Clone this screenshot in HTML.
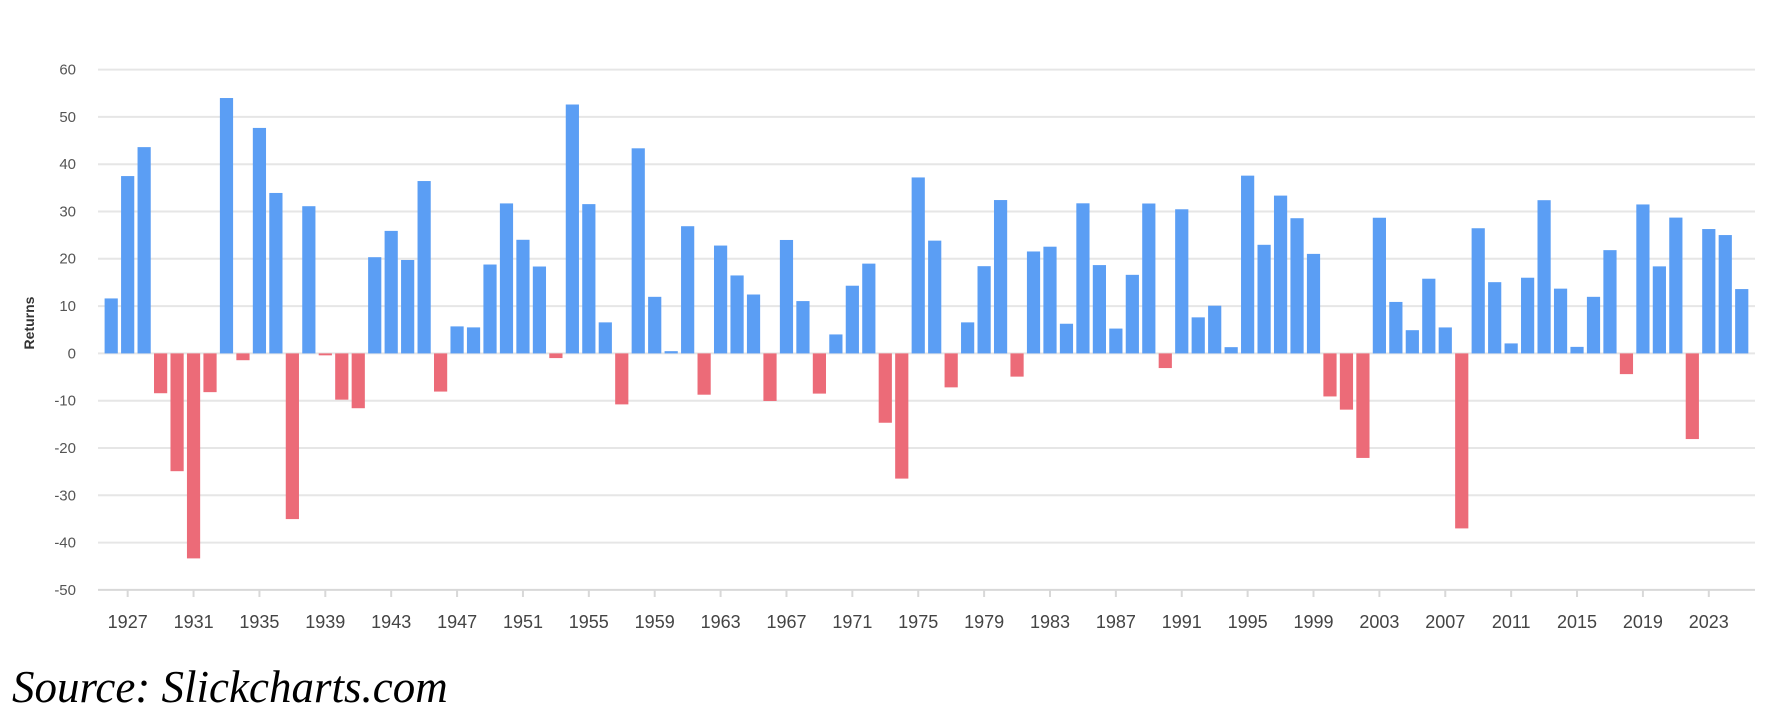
<!DOCTYPE html>
<html><head><meta charset="utf-8"><style>
html,body{margin:0;padding:0;background:#fff;width:1778px;height:710px;overflow:hidden}
svg{display:block}
.yl{font:15px "Liberation Sans",sans-serif;fill:#555;text-anchor:end}
.xl{font:18px "Liberation Sans",sans-serif;fill:#444;text-anchor:middle}
</style></head><body>
<svg id="c" width="1778" height="710" xmlns="http://www.w3.org/2000/svg">
<g id="grid" stroke="#e6e6e6" stroke-width="2"></g>
<g id="bars"></g>
<g id="yl"></g>
<text x="34" y="323" transform="rotate(-90 34 323)" text-anchor="middle" style="font:bold 14px 'Liberation Sans',sans-serif;fill:#333">Returns</text>
<g class="xl">
<text x="127.7" y="628">1927</text><text x="193.6" y="628">1931</text><text x="259.4" y="628">1935</text><text x="325.3" y="628">1939</text><text x="391.2" y="628">1943</text><text x="457.1" y="628">1947</text><text x="523.0" y="628">1951</text><text x="588.8" y="628">1955</text><text x="654.7" y="628">1959</text><text x="720.6" y="628">1963</text><text x="786.5" y="628">1967</text><text x="852.4" y="628">1971</text><text x="918.2" y="628">1975</text><text x="984.1" y="628">1979</text><text x="1050.0" y="628">1983</text><text x="1115.9" y="628">1987</text><text x="1181.8" y="628">1991</text><text x="1247.6" y="628">1995</text><text x="1313.5" y="628">1999</text><text x="1379.4" y="628">2003</text><text x="1445.3" y="628">2007</text><text x="1511.2" y="628">2011</text><text x="1577.0" y="628">2015</text><text x="1642.9" y="628">2019</text><text x="1708.8" y="628">2023</text>
</g>
<g class="yl">
<text x="76" y="74.5">60</text><text x="76" y="121.8">50</text><text x="76" y="169.1">40</text><text x="76" y="216.4">30</text><text x="76" y="263.7">20</text><text x="76" y="311">10</text><text x="76" y="358.4">0</text><text x="76" y="405.7">-10</text><text x="76" y="453">-20</text><text x="76" y="500.3">-30</text><text x="76" y="547.6">-40</text><text x="76" y="594.9">-50</text>
</g>
<text x="12" y="702" style="font:italic 45px 'Liberation Serif',serif;fill:#000">Source: Slickcharts.com</text>
</svg>
<script>
var d=[11.62,37.49,43.61,-8.42,-24.9,-43.34,-8.19,53.99,-1.44,47.67,33.92,-35.03,31.12,-0.41,-9.78,-11.59,20.34,25.9,19.75,36.44,-8.07,5.71,5.5,18.79,31.71,24.02,18.37,-0.99,52.62,31.56,6.56,-10.78,43.36,11.96,0.47,26.89,-8.73,22.8,16.48,12.45,-10.06,23.98,11.06,-8.5,4.01,14.31,18.98,-14.66,-26.47,37.2,23.84,-7.18,6.56,18.44,32.42,-4.91,21.55,22.56,6.27,31.73,18.67,5.25,16.61,31.69,-3.1,30.47,7.62,10.08,1.32,37.58,22.96,33.36,28.58,21.04,-9.1,-11.89,-22.1,28.68,10.88,4.91,15.79,5.49,-37,26.46,15.06,2.11,16,32.39,13.69,1.38,11.96,21.83,-4.38,31.49,18.4,28.71,-18.11,26.29,25.02,13.6];
var ns="http://www.w3.org/2000/svg",z=353.4,k=4.73;
function el(t,a,p){var e=document.createElementNS(ns,t);for(var i in a)e.setAttribute(i,a[i]);p.appendChild(e);}
var g=document.getElementById('grid');
for(var v=60;v>=-50;v-=10){var y=z-v*k;el('line',{x1:98,x2:1755,y1:y,y2:y,stroke:v==-50?'#d8d8d8':'#e6e6e6'},g);}
for(var yr=1927;yr<=2023;yr+=4){var x=111.2+(yr-1926)*16.47;el('line',{x1:x,x2:x,y1:589,y2:597,stroke:'#d8d8d8'},g);}
var b=document.getElementById('bars');
d.forEach(function(v,i){var cx=111.2+i*16.47,h=Math.abs(v)*k;el('rect',{x:cx-6.6,width:13.2,y:v>=0?z-h:z,height:Math.max(h,1),fill:v>=0?'#5b9ef4':'#ec6b78'},b);});
</script>
</body></html>
